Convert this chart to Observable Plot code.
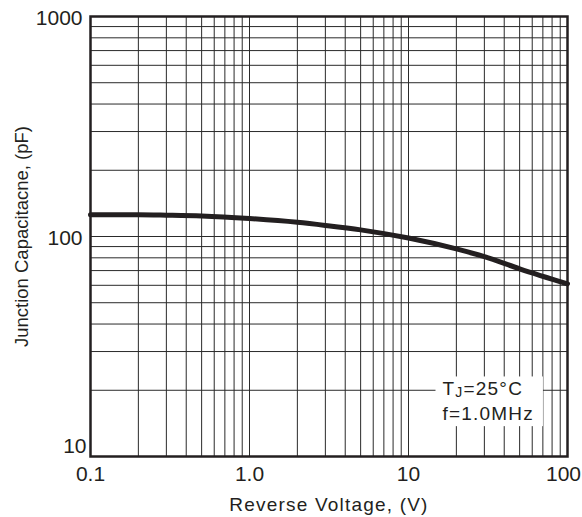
<!DOCTYPE html>
<html>
<head>
<meta charset="utf-8">
<script src="https://cdn.jsdelivr.net/npm/d3@7"></script>
<script src="https://cdn.jsdelivr.net/npm/@observablehq/plot@0.6"></script>
<style>
  html, body { margin: 0; padding: 0; background: #fff; }
</style>
</head>
<body>
<div id="chart"></div>
<script>
// Curve data: Reverse Voltage (V) vs Junction Capacitance (pF)
const voltage = [0.1, 0.2, 0.3, 0.5, 1, 2, 3, 5, 10, 20, 30, 50, 100];
const capacitance = [125.5, 125.5, 125, 124, 120.7, 116, 112.3, 107.2, 98.4, 87.8, 81, 71.3, 60.9];

// Tick labels
const xTickValues = [0.1, 1, 10];
const xTickLabels = ["0.1", "1.0", "10"];
const xLastTickValues = [100];
const xLastTickLabels = ["100"];
const yTickValues = [100, 1000];
const yTickLabels = ["100", "1000"];
const yBottomTickValues = [10];
const yBottomTickLabels = ["10"];

// Grid lines (log decades)
const xGrid = [0.1, 0.2, 0.3, 0.4, 0.5, 0.6, 0.7, 0.8, 0.9,
               1, 2, 3, 4, 5, 6, 7, 8, 9,
               10, 20, 30, 40, 50, 60, 70, 80, 90, 100];
const yGrid = [10, 20, 30, 40, 50, 60, 70, 80, 90,
               100, 200, 300, 400, 500, 600, 700, 800, 900, 1000];

const xTitle = "Reverse Voltage, (V)";
const yTitle = "Junction Capacitacne, (pF)";
const annotationLine1 = "TJ=25°C";
const annotationLine2 = "f=1.0MHz";

const data = voltage.map((v, i) => ({v, c: capacitance[i]}));
const font = "'Liberation Sans', Arial, Helvetica, sans-serif";
const ink = "#231f20";

const chart = Plot.plot({
  width: 582,
  height: 517,
  marginLeft: 90,
  marginRight: 15,
  marginTop: 16,
  marginBottom: 61,
  style: {fontFamily: font, background: "#fff", color: "#000"},
  x: {type: "log", domain: [0.1, 100], axis: null},
  y: {type: "log", domain: [10, 1000], axis: null},
  marks: [
    Plot.ruleX(xGrid, {x: d => d, stroke: "#2a2a2a", strokeWidth: 1}),
    Plot.ruleY(yGrid, {y: d => d, stroke: "#2a2a2a", strokeWidth: 1}),
    Plot.line(data, {x: "v", y: "c", stroke: ink, strokeWidth: 5, curve: "monotone-x"}),
    Plot.text([annotationLine1 + "\n" + annotationLine2], {
      text: d => d, frameAnchor: "bottom-right", textAnchor: "start", lineAnchor: "middle",
      lineHeight: 1.3, dx: -125, dy: -56.6, fontSize: 19, fill: ink
    }),
    Plot.frame({stroke: ink, strokeWidth: 2.5}),
    Plot.text(xTickValues, {x: d => d, text: (d, i) => xTickLabels[i], frameAnchor: "bottom", lineAnchor: "middle", textAnchor: "middle", dy: 18, fontSize: 21, fill: ink}),
    Plot.text(xLastTickValues, {x: d => d, text: (d, i) => xLastTickLabels[i], frameAnchor: "bottom", lineAnchor: "middle", textAnchor: "middle", dx: -4, dy: 18, fontSize: 21, fill: ink}),
    Plot.text(yTickValues, {y: d => d, text: (d, i) => yTickLabels[i], frameAnchor: "left", lineAnchor: "middle", textAnchor: "end", dx: -8, dy: 1.5, fontSize: 21, fill: ink}),
    Plot.text(yBottomTickValues, {y: d => d, text: (d, i) => yBottomTickLabels[i], frameAnchor: "left", lineAnchor: "middle", textAnchor: "end", dx: -4, dy: -10.5, fontSize: 21, fill: ink}),
    Plot.text([xTitle], {text: d => d, frameAnchor: "bottom", lineAnchor: "middle", textAnchor: "middle", dy: 48.5, fontSize: 19, fill: ink}),
    Plot.text([yTitle], {text: d => d, frameAnchor: "left", lineAnchor: "middle", textAnchor: "middle", rotate: -90, dx: -68, fontSize: 18.5, fill: ink})
  ]
});

document.getElementById("chart").appendChild(chart);

const ns = "http://www.w3.org/2000/svg";
const texts = Array.from(chart.querySelectorAll("text"));

// letter spacing on x title
texts.forEach(t => {
  if (t.textContent === xTitle) t.setAttribute("letter-spacing", "1.2");
});

// Subscript "J" in T_J, and a white box behind the annotation
const annText = texts.find(t => t.textContent.indexOf(annotationLine2) >= 0);
if (annText) {
  annText.setAttribute("letter-spacing", "1.2");
  const spans = Array.from(annText.querySelectorAll("tspan"));
  const first = spans.find(s => s.textContent === annotationLine1);
  if (first) {
    first.textContent = "";
    const a = document.createElementNS(ns, "tspan"); a.textContent = "T";
    const b = document.createElementNS(ns, "tspan"); b.textContent = "J";
    b.setAttribute("font-size", "14"); b.setAttribute("dy", "2");
    const c = document.createElementNS(ns, "tspan"); c.textContent = "=25°C";
    c.setAttribute("dy", "-2");
    first.appendChild(a); first.appendChild(b); first.appendChild(c);
  }
  const g = annText.parentNode;
  const bb = g.getBBox();
  const rect = document.createElementNS(ns, "rect");
  rect.setAttribute("x", bb.x - 7);
  rect.setAttribute("y", bb.y - 2);
  rect.setAttribute("width", bb.width + 16);
  rect.setAttribute("height", bb.height + 4);
  rect.setAttribute("fill", "#fff");
  rect.setAttribute("stroke", "none");
  g.insertBefore(rect, g.firstChild);
}
</script>
</body>
</html>
